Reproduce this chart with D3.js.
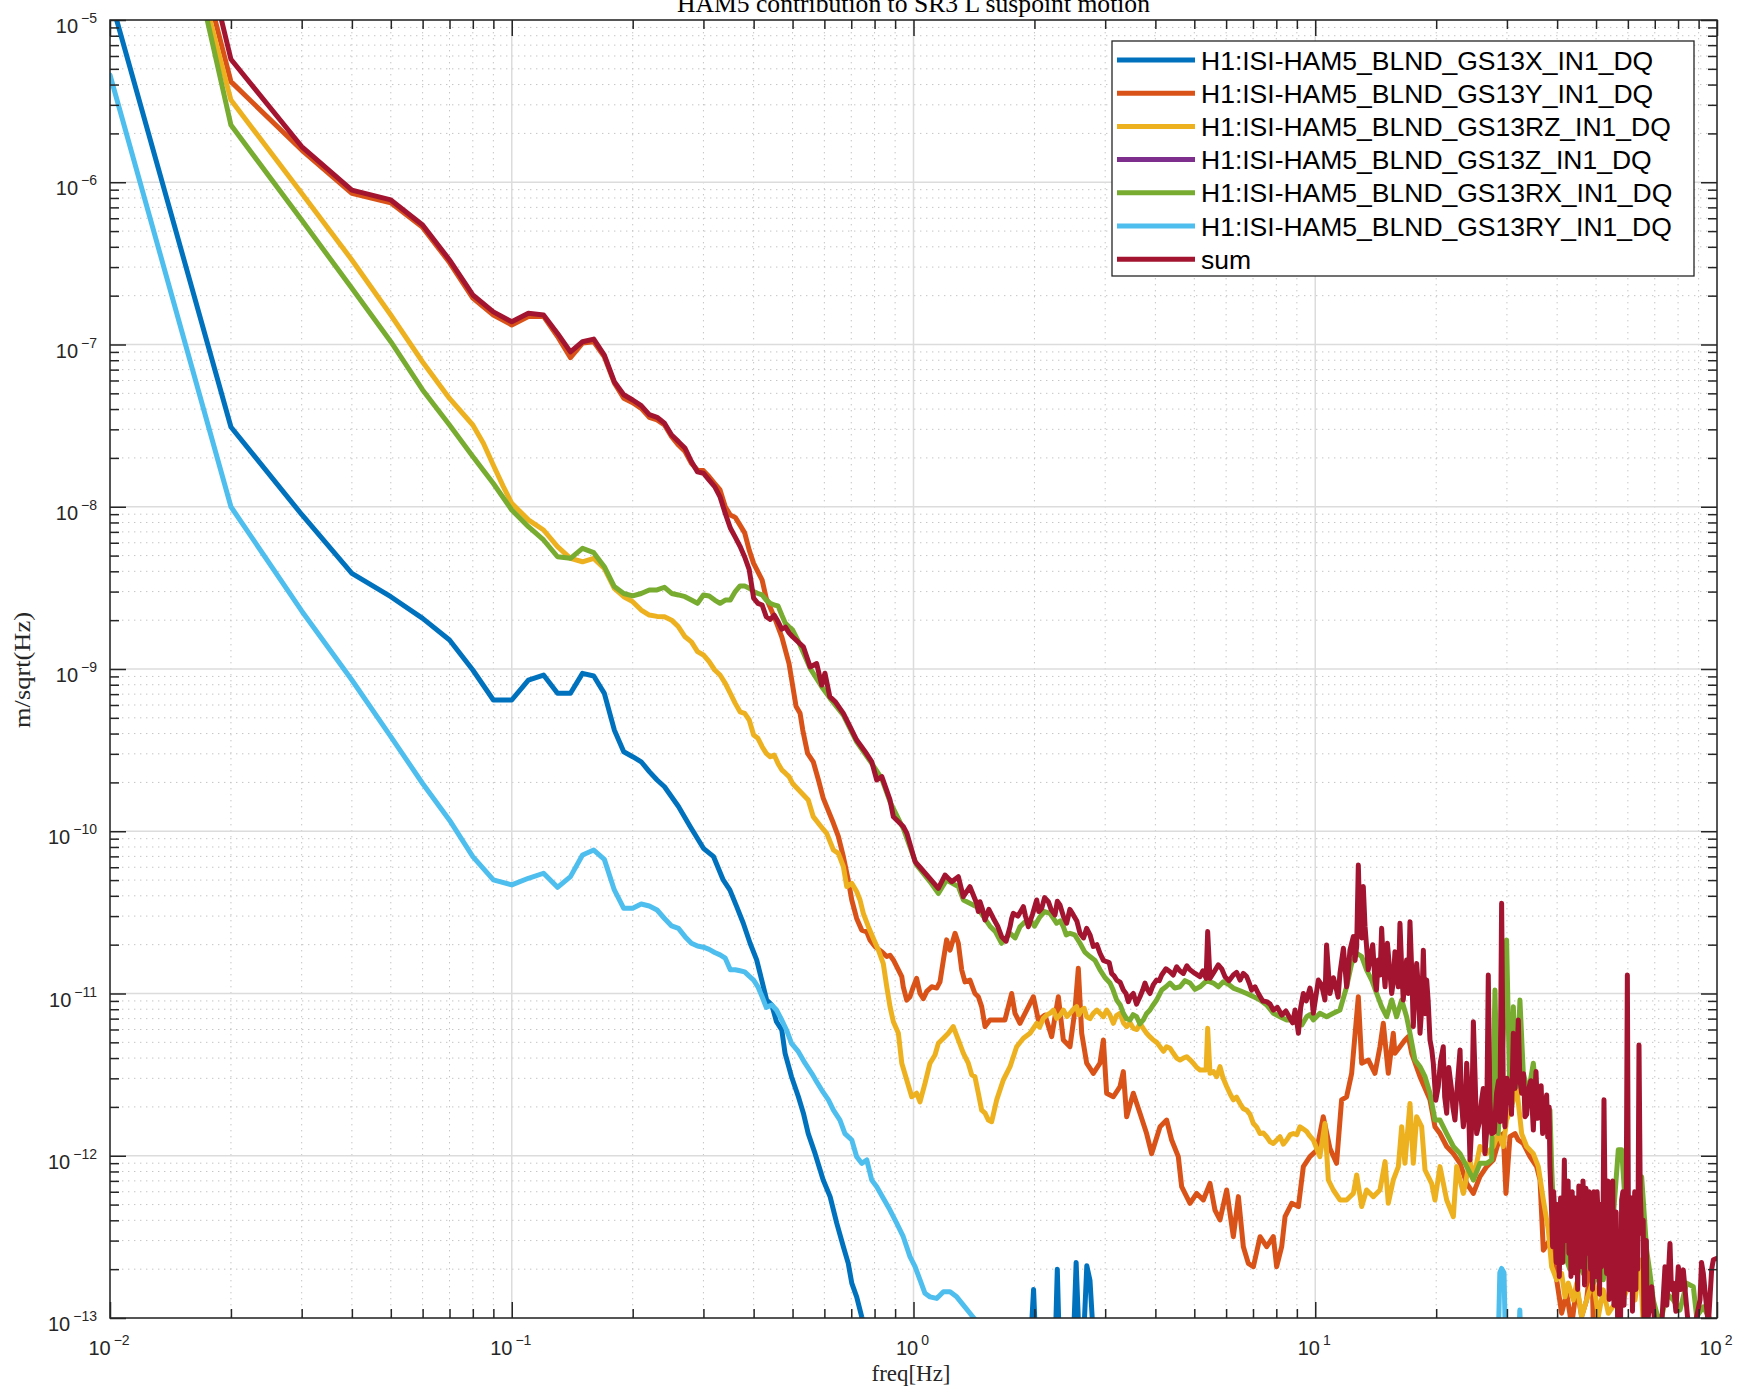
<!DOCTYPE html>
<html>
<head>
<meta charset="utf-8">
<script src="https://cdn.jsdelivr.net/npm/d3@7"></script>
<style>
  body { margin: 0; background: #fff; }
</style>
</head>
<body>
<div id="canvas"></div>
<script>
// ---- data: [frequency Hz, ASD m/sqrt(Hz)] ----
const gs13X = [[0.01,1.4e-5],[0.02,3.1e-8],[0.03,8.96e-9],[0.04,3.89e-9],[0.05,2.79e-9],[0.06,2.05e-9],[0.07,1.51e-9],[0.08,9.86e-10],[0.09,6.44e-10],[0.1,6.44e-10],[0.11,8.55e-10],[0.12,9.18e-10],[0.13,7.08e-10],[0.14,7.08e-10],[0.15,9.4e-10],[0.16,9.05e-10],[0.17,7.08e-10],[0.18,4.21e-10],[0.19,3.09e-10],[0.2,2.88e-10],[0.21,2.68e-10],[0.22,2.33e-10],[0.23,2.07e-10],[0.24,1.88e-10],[0.26,1.42e-10],[0.278,1.07e-10],[0.3,7.85e-11],[0.318,6.97e-11],[0.336,5.01e-11],[0.349,4.35e-11],[0.363,3.43e-11],[0.377,2.71e-11],[0.392,2.04e-11],[0.407,1.61e-11],[0.419,1.21e-11],[0.431,9.12e-12],[0.444,8.49e-12],[0.456,6.7e-12],[0.47,5.96e-12],[0.479,4.28e-12],[0.497,3.07e-12],[0.517,2.31e-12],[0.532,1.83e-12],[0.547,1.37e-12],[0.569,1.03e-12],[0.596,7.09e-13],[0.62,5.6e-13],[0.644,3.84e-13],[0.669,2.75e-13],[0.688,2.17e-13],[0.702,1.64e-13],[0.722,1.35e-13],[0.743,1.02e-13],[0.765,8e-14],[1.5,3e-14],[1.95,6e-14],[1.99,1.5e-13],[2.02,6e-14],[2.25,6e-14],[2.28,2.0e-13],[2.31,6e-14],[2.5,7e-14],[2.54,2.2e-13],[2.58,8e-14],[2.66,9e-14],[2.7,2.1e-13],[2.75,1.7e-13],[2.8,8e-14],[3.0,4e-14],[100,1e-14]];

const gs13Y = [[0.01,3.3e-3],[0.02,4.17e-6],[0.03,1.58e-6],[0.04,8.55e-7],[0.05,7.48e-7],[0.06,5.27e-7],[0.07,3.2e-7],[0.08,1.93e-7],[0.09,1.52e-7],[0.1,1.32e-7],[0.11,1.49e-7],[0.12,1.49e-7],[0.13,1.12e-7],[0.14,8.3e-8],[0.15,1.02e-7],[0.16,1.04e-7],[0.17,8.4e-8],[0.18,5.8e-8],[0.19,4.66e-8],[0.2,4.38e-8],[0.21,4.04e-8],[0.22,3.56e-8],[0.23,3.43e-8],[0.24,3.19e-8],[0.25,2.7e-8],[0.26,2.4e-8],[0.27,2.19e-8],[0.28,1.85e-8],[0.29,1.68e-8],[0.3,1.67e-8],[0.31,1.53e-8],[0.32,1.39e-8],[0.33,1.27e-8],[0.34,1.0e-8],[0.35,8.9e-9],[0.36,8.6e-9],[0.37,7.7e-9],[0.38,6.9e-9],[0.39,5.4e-9],[0.4,4.48e-9],[0.42,3.53e-9],[0.43,2.73e-9],[0.45,2.1e-9],[0.47,1.58e-9],[0.49,1.08e-9],[0.51,5.9e-10],[0.522,5.33e-10],[0.53,4.21e-10],[0.545,3.02e-10],[0.563,2.68e-10],[0.58,2.07e-10],[0.596,1.6e-10],[0.632,1.12e-10],[0.65,9.3e-11],[0.669,6.97e-11],[0.688,5.0e-11],[0.702,3.77e-11],[0.722,2.9e-11],[0.743,2.46e-11],[0.765,2.4e-11],[0.779,2.14e-11],[0.802,1.95e-11],[0.833,1.81e-11],[0.858,1.69e-11],[0.874,1.72e-11],[0.891,1.61e-11],[0.917,1.4e-11],[0.935,1.27e-11],[0.943,1.1e-11],[0.962,9.1e-12],[0.98,9.55e-12],[0.999,1.1e-11],[1.018,1.24e-11],[1.038,1.0e-11],[1.058,9.3e-12],[1.079,1.03e-11],[1.11,1.1e-11],[1.142,1.08e-11],[1.164,1.18e-11],[1.187,1.61e-11],[1.209,2.14e-11],[1.233,1.85e-11],[1.269,2.35e-11],[1.293,2.04e-11],[1.318,1.4e-11],[1.343,1.18e-11],[1.382,1.21e-11],[1.422,1.0e-11],[1.45,9.55e-12],[1.478,8.3e-12],[1.507,6.25e-12],[1.55,6.87e-12],[1.689,6.87e-12],[1.755,1.0e-11],[1.789,7.55e-12],[1.841,6.55e-12],[1.913,7.91e-12],[1.988,9.55e-12],[2.045,6.87e-12],[2.125,7.36e-12],[2.208,5.42e-12],[2.294,9.55e-12],[2.36,5.17e-12],[2.452,4.7e-12],[2.523,7.91e-12],[2.572,1.43e-11],[2.622,5.69e-12],[2.698,3.72e-12],[2.803,3.22e-12],[2.912,3.72e-12],[2.969,5.17e-12],[3.025,2.43e-12],[3.144,2.31e-12],[3.266,2.67e-12],[3.329,3.3e-12],[3.393,1.74e-12],[3.525,2.43e-12],[3.662,1.83e-12],[3.804,1.37e-12],[3.915,1.03e-12],[4.108,1.51e-12],[4.267,1.66e-12],[4.391,1.25e-12],[4.562,9.87e-13],[4.65,6.45e-13],[4.878,5.09e-13],[5.068,5.86e-13],[5.265,5.34e-13],[5.47,6.76e-13],[5.628,4.63e-13],[5.793,4.02e-13],[6.019,6.15e-13],[6.253,3.17e-13],[6.437,5.6e-13],[6.622,2.75e-13],[6.814,2.17e-13],[7.015,2.07e-13],[7.288,3.17e-13],[7.57,2.75e-13],[7.864,3.17e-13],[8.015,2.07e-13],[8.25,2.75e-13],[8.41,4.21e-13],[8.74,5.09e-13],[9.08,4.86e-13],[9.34,8.57e-13],[9.7,9.87e-13],[10.08,1.08e-12],[10.47,1.74e-12],[10.88,1.11e-12],[11.3,8.98e-13],[11.63,2.21e-12],[11.97,2.31e-12],[12.32,3.22e-12],[12.8,9.55e-12],[13.05,3.72e-12],[13.56,3.89e-12],[14.08,3.22e-12],[14.49,4.7e-12],[14.77,6.55e-12],[15.2,3.22e-12],[15.64,5.69e-12],[15.79,4.28e-12],[16.25,4.7e-12],[16.72,5.17e-12],[17.05,5.42e-12],[17.38,4.28e-12],[18.23,3.07e-12],[19.3,2.21e-12],[19.86,1.51e-12],[20.44,1.37e-12],[21.24,1.14e-12],[22.07,1.03e-12],[22.93,8.98e-13],[23.82,6.76e-13],[24.75,5.86e-13],[25.7,7.43e-13],[26.7,8.57e-13],[27.74,9.42e-13],[28.82,1.31e-12],[29.38,1.37e-12],[29.83,5.86e-13],[30.52,1.31e-12],[31.42,1.37e-12],[32.02,1.25e-12],[32.95,1.19e-12],[34.24,9.87e-13],[35.57,8.57e-13],[36.26,7.09e-13],[36.96,2.62e-13],[38.39,3.03e-13],[39.89,1.72e-13],[41.05,1.07e-13],[42.25,1.42e-13],[43.47,9e-14],[44.74,1.56e-13],[46.03,1.02e-13],[47.37,1.29e-13],[48.75,2.62e-13],[49.22,9e-14],[53.12,8e-14],[70,6e-14],[100,6e-14]];

const gs13RZ = [[0.01,2.3e-3],[0.02,3.21e-6],[0.03,8.55e-7],[0.04,3.32e-7],[0.05,1.52e-7],[0.06,7.8e-8],[0.07,4.65e-8],[0.08,3.19e-8],[0.085,2.46e-8],[0.09,1.8e-8],[0.0953,1.33e-8],[0.1,1.05e-8],[0.11,8.3e-9],[0.12,7.19e-9],[0.13,5.68e-9],[0.14,4.81e-9],[0.15,4.58e-9],[0.16,4.81e-9],[0.17,4.17e-9],[0.18,3.14e-9],[0.19,2.79e-9],[0.2,2.6e-9],[0.21,2.31e-9],[0.22,2.15e-9],[0.23,2.11e-9],[0.24,2.1e-9],[0.25,2.0e-9],[0.26,1.82e-9],[0.27,1.58e-9],[0.28,1.47e-9],[0.29,1.28e-9],[0.3,1.22e-9],[0.31,1.11e-9],[0.32,9.86e-10],[0.33,9.18e-10],[0.34,8.16e-10],[0.35,7.08e-10],[0.36,6.14e-10],[0.37,5.45e-10],[0.38,5.33e-10],[0.39,4.85e-10],[0.4,3.92e-10],[0.41,3.74e-10],[0.42,3.32e-10],[0.43,3.02e-10],[0.44,2.88e-10],[0.45,2.95e-10],[0.46,2.62e-10],[0.47,2.39e-10],[0.48,2.28e-10],[0.49,2.17e-10],[0.5,1.97e-10],[0.547,1.56e-10],[0.563,1.23e-10],[0.585,1.09e-10],[0.608,9.7e-11],[0.632,7.66e-11],[0.65,7.31e-11],[0.669,6.05e-11],[0.682,4.56e-11],[0.702,4.77e-11],[0.722,4.25e-11],[0.736,3.77e-11],[0.75,3.12e-11],[0.772,2.58e-11],[0.794,2.19e-11],[0.818,1.85e-11],[0.841,1.53e-11],[0.858,1.1e-11],[0.874,8.3e-12],[0.891,6.7e-12],[0.917,5.69e-12],[0.935,3.72e-12],[0.962,2.93e-12],[0.99,2.31e-12],[1.018,2.43e-12],[1.038,2.15e-12],[1.068,2.79e-12],[1.099,3.72e-12],[1.131,4.18e-12],[1.153,4.93e-12],[1.187,5.3e-12],[1.221,5.69e-12],[1.256,6.25e-12],[1.293,5.17e-12],[1.331,4.28e-12],[1.369,3.72e-12],[1.396,3.15e-12],[1.422,3.07e-12],[1.45,2.43e-12],[1.478,1.91e-12],[1.507,1.83e-12],[1.536,1.66e-12],[1.565,1.62e-12],[1.611,2.21e-12],[1.673,2.93e-12],[1.739,3.54e-12],[1.806,4.7e-12],[1.877,5.3e-12],[1.95,5.69e-12],[2.026,6.55e-12],[2.06,6.2e-12],[2.105,7.03e-12],[2.15,7.4e-12],[2.187,7.55e-12],[2.23,7.9e-12],[2.272,7.03e-12],[2.32,7.4e-12],[2.36,7.91e-12],[2.41,7.2e-12],[2.452,7.55e-12],[2.5,8.0e-12],[2.547,8.3e-12],[2.58,7.4e-12],[2.622,7.91e-12],[2.66,8.1e-12],[2.698,7.19e-12],[2.75,7.0e-12],[2.803,7.55e-12],[2.86,7.9e-12],[2.912,7.55e-12],[2.97,7.2e-12],[3.025,7.91e-12],[3.08,7.4e-12],[3.144,6.55e-12],[3.2,7.3e-12],[3.266,7.55e-12],[3.33,6.6e-12],[3.393,6.25e-12],[3.46,6.6e-12],[3.525,6.1e-12],[3.6,6.0e-12],[3.662,6.55e-12],[3.73,6.1e-12],[3.804,5.69e-12],[3.88,5.4e-12],[3.953,5.17e-12],[4.03,5.0e-12],[4.108,4.7e-12],[4.19,4.4e-12],[4.267,4.7e-12],[4.35,4.6e-12],[4.434,4.28e-12],[4.52,4.0e-12],[4.606,3.89e-12],[4.7,4.0e-12],[4.786,4.08e-12],[4.88,3.9e-12],[4.972,3.72e-12],[5.07,3.5e-12],[5.166,3.38e-12],[5.35,3.38e-12],[5.398,6.1e-12],[5.47,3.22e-12],[5.58,3.3e-12],[5.683,3.07e-12],[5.793,3.54e-12],[5.9,3.0e-12],[6.019,2.67e-12],[6.14,2.4e-12],[6.253,2.21e-12],[6.37,2.3e-12],[6.497,2.1e-12],[6.62,1.95e-12],[6.75,1.91e-12],[6.88,1.8e-12],[7.015,1.58e-12],[7.15,1.5e-12],[7.288,1.37e-12],[7.43,1.38e-12],[7.57,1.31e-12],[7.72,1.22e-12],[7.864,1.19e-12],[8.02,1.25e-12],[8.17,1.31e-12],[8.33,1.18e-12],[8.49,1.25e-12],[8.66,1.35e-12],[8.82,1.37e-12],[9.0,1.35e-12],[9.16,1.51e-12],[9.34,1.46e-12],[9.52,1.41e-12],[9.7,1.32e-12],[9.89,1.25e-12],[10.27,9.87e-13],[10.57,1.58e-12],[10.78,7.09e-13],[11.09,6.15e-13],[11.52,5.34e-13],[11.97,5.34e-13],[12.44,5.86e-13],[12.68,7.61e-13],[13.05,4.86e-13],[13.42,6.15e-13],[13.95,5.6e-13],[14.49,6.15e-13],[14.92,9.2e-13],[15.2,5.09e-13],[15.64,7.09e-13],[16.1,8.57e-13],[16.41,1.51e-12],[16.72,8.98e-13],[17.21,2.1e-12],[17.54,8.98e-13],[17.88,1.74e-12],[18.4,1.51e-12],[18.76,8.17e-13],[19.48,6.76e-13],[19.86,5.34e-13],[20.44,8.57e-13],[21.24,5.34e-13],[22.07,4.21e-13],[22.49,8.57e-13],[23.37,5.86e-13],[24.28,9.42e-13],[24.75,7.09e-13],[25.7,1.14e-12],[26.7,1.03e-12],[27.74,1.14e-12],[28.54,1.37e-12],[29.38,1.14e-12],[29.94,1.66e-12],[30.82,2.01e-12],[31.71,2.67e-12],[32.64,1.37e-12],[33.59,1.14e-12],[34.9,1.03e-12],[35.91,8.57e-13],[36.96,5.34e-13],[38.03,3.49e-13],[38.76,2.07e-13],[39.89,1.72e-13],[41.05,1.88e-13],[41.84,1.35e-13],[42.65,1.64e-13],[43.89,1.29e-13],[44.74,1.64e-13],[46.03,1.02e-13],[47.37,1.29e-13],[49.22,1.72e-13],[50.65,1.02e-13],[52.12,1.49e-13],[53.64,1.07e-13],[55.73,1.23e-13],[56.8,2.07e-13],[58.45,1.29e-13],[60.74,1.72e-13],[62.51,1.29e-13],[64.31,2.28e-13],[65.55,9e-14],[74.93,8e-14],[100,7e-14]];

// Z shows no coupling into L: nothing above zero
const gs13Z = [[0.01,0],[100,0]];

const gs13RX = [[0.01,4.5e-3],[0.02,2.25e-6],[0.03,5.85e-7],[0.04,2.22e-7],[0.05,1.04e-7],[0.06,5.25e-8],[0.07,3.19e-8],[0.08,2.04e-8],[0.09,1.39e-8],[0.1,9.55e-9],[0.11,7.54e-9],[0.12,6.24e-9],[0.13,4.92e-9],[0.14,4.81e-9],[0.15,5.54e-9],[0.16,5.21e-9],[0.17,4.27e-9],[0.18,3.22e-9],[0.19,2.92e-9],[0.2,2.82e-9],[0.21,2.92e-9],[0.22,3.07e-9],[0.23,3.07e-9],[0.24,3.19e-9],[0.25,2.92e-9],[0.26,2.86e-9],[0.27,2.79e-9],[0.28,2.66e-9],[0.29,2.54e-9],[0.3,2.86e-9],[0.31,2.82e-9],[0.32,2.66e-9],[0.33,2.54e-9],[0.34,2.66e-9],[0.35,2.66e-9],[0.36,3.0e-9],[0.37,3.25e-9],[0.38,3.25e-9],[0.39,3.15e-9],[0.4,3.0e-9],[0.41,2.92e-9],[0.42,2.86e-9],[0.43,2.66e-9],[0.44,2.54e-9],[0.45,2.48e-9],[0.46,2.45e-9],[0.47,2.15e-9],[0.48,1.91e-9],[0.49,1.82e-9],[0.5,1.74e-9],[0.517,1.48e-9],[0.553,1.01e-9],[0.591,7.78e-10],[0.62,6.59e-10],[0.669,5.2e-10],[0.722,3.56e-10],[0.787,2.62e-10],[0.833,2.12e-10],[0.874,1.52e-10],[0.943,1.04e-10],[1.018,6.19e-11],[1.099,4.89e-11],[1.153,4.14e-11],[1.209,5.01e-11],[1.293,4.56e-11],[1.331,3.77e-11],[1.436,3.43e-11],[1.55,2.6e-11],[1.6,2.4e-11],[1.657,2.04e-11],[1.7,2.2e-11],[1.739,2.35e-11],[1.79,2.2e-11],[1.841,2.58e-11],[1.89,2.75e-11],[1.95,2.84e-11],[2.0,2.6e-11],[2.064,2.97e-11],[2.12,3.2e-11],[2.187,3.12e-11],[2.23,2.9e-11],[2.272,2.71e-11],[2.32,2.8e-11],[2.36,2.58e-11],[2.4,2.3e-11],[2.452,2.35e-11],[2.52,2.3e-11],[2.597,2.04e-11],[2.67,1.8e-11],[2.75,1.69e-11],[2.83,1.6e-11],[2.912,1.4e-11],[3.0,1.25e-11],[3.084,1.16e-11],[3.14,1.05e-11],[3.204,9.12e-12],[3.27,8.5e-12],[3.329,7.55e-12],[3.39,7.0e-12],[3.459,6.87e-12],[3.52,7.4e-12],[3.593,7.19e-12],[3.66,6.5e-12],[3.733,6.87e-12],[3.8,7.5e-12],[3.878,7.91e-12],[3.95,8.5e-12],[4.029,9.12e-12],[4.09,9.8e-12],[4.147,1.05e-11],[4.25,1.1e-11],[4.349,1.16e-11],[4.47,1.08e-11],[4.606,1.1e-11],[4.74,1.2e-11],[4.878,1.16e-11],[5.02,1.06e-11],[5.166,1.1e-11],[5.37,1.2e-11],[5.576,1.16e-11],[5.74,1.1e-11],[5.904,1.18e-11],[6.08,1.14e-11],[6.253,1.08e-11],[6.5,1.04e-11],[6.75,1.0e-11],[7.0,9.6e-12],[7.288,9.12e-12],[7.57,8.5e-12],[7.864,7.55e-12],[8.17,7.2e-12],[8.49,6.87e-12],[8.74,6.9e-12],[8.99,6.55e-12],[9.26,6.4e-12],[9.52,7.19e-12],[9.7,7.4e-12],[9.89,6.87e-12],[10.27,7.55e-12],[10.67,7.19e-12],[11.09,7.55e-12],[11.52,7.91e-12],[11.97,1.1e-11],[12.32,1.53e-11],[12.68,1.77e-11],[13.05,1.69e-11],[13.42,1.4e-11],[13.82,1.21e-11],[14.22,1.0e-11],[14.63,8.3e-12],[15.06,7.19e-12],[15.5,9.12e-12],[15.94,7.19e-12],[16.41,9.12e-12],[16.88,7.19e-12],[17.21,5.69e-12],[17.71,3.89e-12],[18.23,3.54e-12],[18.76,3.07e-12],[19.3,2.43e-12],[19.86,1.66e-12],[20.44,1.66e-12],[21.24,1.37e-12],[22.07,1.14e-12],[22.93,1.03e-12],[23.82,8.57e-13],[24.75,7.09e-13],[25.7,8.98e-13],[26.7,8.98e-13],[27.48,9.42e-13],[28.01,1.05e-11],[28.54,1.37e-12],[29.38,5.69e-12],[29.94,2.14e-11],[30.52,2.21e-12],[31.12,8.3e-12],[31.71,2.67e-12],[32.32,9.12e-12],[32.95,3.22e-12],[33.91,2.43e-12],[34.9,3.72e-12],[35.57,2.21e-12],[36.6,2.01e-12],[37.67,1.83e-12],[38.39,1.91e-12],[38.76,8.57e-13],[39.51,2.75e-13],[40.66,2.51e-13],[41.5,3.5e-13],[42.25,2.28e-13],[43.0,2.0e-13],[43.89,5.34e-13],[44.5,3.2e-13],[45.16,2.28e-13],[46.48,1.88e-13],[47.1,2.6e-13],[47.83,2.07e-13],[48.5,2.8e-13],[49.22,1.64e-13],[50.65,1.88e-13],[51.4,2.4e-13],[52.12,1.72e-13],[53.64,2.88e-13],[54.4,2.0e-13],[55.2,4.21e-13],[56.8,1.09e-12],[57.9,1.09e-12],[59.02,5.34e-13],[60.74,3.33e-13],[63.1,2.62e-13],[64.93,7.43e-13],[66.82,2.62e-13],[68.11,1.88e-13],[69.42,1.29e-13],[72.13,9e-14],[74.93,1.42e-13],[77.85,1.29e-13],[80.88,1.12e-13],[84.03,1.64e-13],[87.31,1.56e-13],[88.99,1.02e-13],[92.47,1.17e-13],[97.91,9e-14],[100,9e-14]];

const gs13RY = [[0.01,4.58e-6],[0.02,1.0e-8],[0.03,2.28e-9],[0.04,8.55e-10],[0.05,3.83e-10],[0.06,1.97e-10],[0.07,1.17e-10],[0.08,6.97e-11],[0.09,5.01e-11],[0.1,4.67e-11],[0.11,5.13e-11],[0.12,5.51e-11],[0.13,4.51e-11],[0.14,5.25e-11],[0.15,7.14e-11],[0.16,7.66e-11],[0.17,6.71e-11],[0.18,4.35e-11],[0.19,3.35e-11],[0.2,3.35e-11],[0.21,3.56e-11],[0.22,3.46e-11],[0.23,3.27e-11],[0.24,2.9e-11],[0.25,2.61e-11],[0.26,2.52e-11],[0.27,2.24e-11],[0.28,2.04e-11],[0.29,1.96e-11],[0.3,1.93e-11],[0.31,1.87e-11],[0.32,1.79e-11],[0.33,1.73e-11],[0.34,1.65e-11],[0.35,1.4e-11],[0.36,1.4e-11],[0.37,1.38e-11],[0.38,1.36e-11],[0.39,1.28e-11],[0.4,1.21e-11],[0.41,1.1e-11],[0.42,9.55e-12],[0.43,8.22e-12],[0.444,8.49e-12],[0.456,7.91e-12],[0.47,6.87e-12],[0.483,5.96e-12],[0.497,4.93e-12],[0.517,4.38e-12],[0.537,3.72e-12],[0.558,3.22e-12],[0.574,2.86e-12],[0.591,2.54e-12],[0.614,2.21e-12],[0.632,1.91e-12],[0.656,1.66e-12],[0.675,1.37e-12],[0.702,1.25e-12],[0.722,9.87e-13],[0.743,8.98e-13],[0.765,9.42e-13],[0.787,7.09e-13],[0.81,6.45e-13],[0.841,5.47e-13],[0.874,4.63e-13],[0.908,3.84e-13],[0.943,3.17e-13],[0.98,2.39e-13],[1.009,2.07e-13],[1.038,1.72e-13],[1.068,1.42e-13],[1.099,1.35e-13],[1.142,1.32e-13],[1.187,1.45e-13],[1.233,1.45e-13],[1.281,1.35e-13],[1.331,1.2e-13],[1.382,1.07e-13],[1.436,9.5e-14],[1.55,7e-14],[10,3e-14],[28.5,6e-14],[28.8,1.9e-13],[29.1,2.02e-13],[29.5,1.9e-13],[29.8,6e-14],[32.0,6e-14],[32.3,1.12e-13],[32.6,6e-14],[40,3e-14],[100,3e-14]];

const sumL = [[0.01,7e-3],[0.02,5.73e-6],[0.03,1.66e-6],[0.04,8.95e-7],[0.05,7.78e-7],[0.06,5.45e-7],[0.07,3.32e-7],[0.08,2.02e-7],[0.09,1.59e-7],[0.1,1.38e-7],[0.11,1.56e-7],[0.12,1.52e-7],[0.13,1.17e-7],[0.14,9.0e-8],[0.15,1.04e-7],[0.16,1.08e-7],[0.17,8.6e-8],[0.18,5.9e-8],[0.19,4.9e-8],[0.2,4.55e-8],[0.21,4.2e-8],[0.22,3.7e-8],[0.23,3.56e-8],[0.24,3.27e-8],[0.25,2.77e-8],[0.26,2.52e-8],[0.27,2.29e-8],[0.28,1.9e-8],[0.29,1.64e-8],[0.3,1.61e-8],[0.31,1.46e-8],[0.32,1.33e-8],[0.33,1.15e-8],[0.34,9.1e-9],[0.35,7.4e-9],[0.36,6.5e-9],[0.37,5.7e-9],[0.38,4.9e-9],[0.39,4.1e-9],[0.4,2.73e-9],[0.41,2.54e-9],[0.42,2.48e-9],[0.43,2.1e-9],[0.44,2.02e-9],[0.45,2.15e-9],[0.46,1.96e-9],[0.47,1.76e-9],[0.48,1.81e-9],[0.49,1.67e-9],[0.5,1.58e-9],[0.532,1.37e-9],[0.553,1.03e-9],[0.574,1.08e-9],[0.591,7.96e-10],[0.602,9.42e-10],[0.619,6.75e-10],[0.638,6.3e-10],[0.669,5.33e-10],[0.695,4.41e-10],[0.722,3.65e-10],[0.758,3.09e-10],[0.787,2.69e-10],[0.81,2.07e-10],[0.834,2.17e-10],[0.874,1.56e-10],[0.891,1.23e-10],[0.943,1.07e-10],[0.963,9.7e-11],[1.009,6.5e-11],[1.038,6.0e-11],[1.099,5.1e-11],[1.153,4.45e-11],[1.198,5.37e-11],[1.245,4.89e-11],[1.293,5.25e-11],[1.33,3.95e-11],[1.382,4.55e-11],[1.436,3.6e-11],[1.45,3.2e-11],[1.464,3.68e-11],[1.485,3.3e-11],[1.506,2.84e-11],[1.54,3.3e-11],[1.58,2.91e-11],[1.62,2.6e-11],[1.657,2.24e-11],[1.70,2.1e-11],[1.739,2.58e-11],[1.755,2.9e-11],[1.772,3.12e-11],[1.82,3.0e-11],[1.877,3.43e-11],[1.90,3.0e-11],[1.931,2.58e-11],[1.98,3.1e-11],[2.026,3.77e-11],[2.05,3.2e-11],[2.085,3.35e-11],[2.12,3.9e-11],[2.166,3.68e-11],[2.20,3.3e-11],[2.25,3.05e-11],[2.28,3.7e-11],[2.315,3.51e-11],[2.36,3.0e-11],[2.406,2.71e-11],[2.45,3.3e-11],[2.499,3.05e-11],[2.55,2.8e-11],[2.597,2.35e-11],[2.65,2.2e-11],[2.698,2.52e-11],[2.75,2.3e-11],[2.803,1.95e-11],[2.86,2.0e-11],[2.912,1.77e-11],[2.97,1.6e-11],[3.025,1.57e-11],[3.07,1.55e-11],[3.113,1.33e-11],[3.16,1.28e-11],[3.204,1.21e-11],[3.27,1.17e-11],[3.329,1.05e-11],[3.38,1.0e-11],[3.425,8.91e-12],[3.47,9.6e-12],[3.525,1.0e-11],[3.59,8.6e-12],[3.662,9.55e-12],[3.72,1.05e-11],[3.769,1.16e-11],[3.82,1.06e-11],[3.878,1.0e-11],[3.95,1.13e-11],[4.029,1.21e-11],[4.09,1.2e-11],[4.147,1.3e-11],[4.25,1.42e-11],[4.349,1.36e-11],[4.43,1.3e-11],[4.519,1.46e-11],[4.6,1.38e-11],[4.695,1.33e-11],[4.79,1.48e-11],[4.878,1.4e-11],[5.02,1.33e-11],[5.166,1.27e-11],[5.25,1.38e-11],[5.35,1.24e-11],[5.398,2.41e-11],[5.47,1.24e-11],[5.6,1.36e-11],[5.738,1.5e-11],[5.85,1.42e-11],[5.961,1.27e-11],[6.1,1.2e-11],[6.253,1.3e-11],[6.37,1.35e-11],[6.497,1.21e-11],[6.62,1.33e-11],[6.75,1.27e-11],[6.85,1.16e-11],[6.946,1.05e-11],[7.08,1.1e-11],[7.216,1.0e-11],[7.4,9.0e-12],[7.57,8.91e-12],[7.72,8.6e-12],[7.864,7.91e-12],[8.05,8.2e-12],[8.25,7.36e-12],[8.45,7.8e-12],[8.65,7.03e-12],[8.78,6.6e-12],[8.91,7.91e-12],[9.08,5.69e-12],[9.2,8.2e-12],[9.34,1.0e-11],[9.5,9.0e-12],[9.7,1.08e-11],[9.8,9.6e-12],[9.89,7.55e-12],[10.18,1.21e-11],[10.37,1.13e-11],[10.57,9.12e-12],[10.67,1.99e-11],[10.88,1.0e-11],[11.1,1.25e-11],[11.3,1.05e-11],[11.4,9.5e-12],[11.52,1.33e-11],[11.75,1.9e-11],[11.86,1.45e-11],[11.97,1.1e-11],[12.08,1.35e-11],[12.2,1.85e-11],[12.44,2.24e-11],[12.56,1.6e-11],[12.68,1.95e-11],[12.8,6.19e-11],[12.92,2.58e-11],[13.05,2.2e-11],[13.17,4.56e-11],[13.3,2.6e-11],[13.42,1.95e-11],[13.55,1.4e-11],[13.68,1.61e-11],[13.9,2.0e-11],[14.08,1.21e-11],[14.2,1.05e-11],[14.35,1.61e-11],[14.5,1.3e-11],[14.63,2.52e-11],[14.78,1.5e-11],[14.92,1.1e-11],[15.12,2.04e-11],[15.3,1.45e-11],[15.5,1.0e-11],[15.65,1.2e-11],[15.79,1.81e-11],[15.95,1.3e-11],[16.1,1.1e-11],[16.25,2.71e-11],[16.4,1.5e-11],[16.56,9.12e-12],[16.7,1.2e-11],[16.88,1.61e-11],[17.05,1.0e-11],[17.21,2.77e-11],[17.38,1.4e-11],[17.54,6.25e-12],[17.7,1.0e-11],[17.88,1.53e-11],[18.05,1.1e-11],[18.23,5.69e-12],[18.4,8e-12],[18.58,1.85e-11],[18.76,7.5e-12],[18.94,1.21e-11],[19.1,9e-12],[19.3,5.17e-12],[19.5,4.5e-12],[19.67,3.72e-12],[19.95,2.2e-12],[20.24,2.67e-12],[20.5,3.8e-12],[20.83,4.7e-12],[21.0,2.3e-12],[21.24,1.83e-12],[21.5,3.5e-12],[21.85,2.54e-12],[22.0,2.0e-12],[22.27,1.66e-12],[22.6,2.8e-12],[22.93,4.49e-12],[23.1,2.2e-12],[23.37,1.51e-12],[23.6,1.9e-12],[23.82,3.72e-12],[24.0,2.6e-12],[24.28,9.42e-13],[24.5,1.5e-12],[24.75,6.7e-12],[25.0,3.0e-12],[25.22,1.37e-12],[25.6,1.6e-12],[25.95,2.21e-12],[26.2,2.6e-12],[26.45,1.03e-12],[26.7,1.4e-12],[26.96,1.3e-11],[27.2,2.2e-12],[27.48,1.37e-12],[27.9,1.4e-12],[28.27,2.43e-12],[28.6,2.9e-12],[28.82,1.62e-12],[29.1,3.6e-11],[29.4,2.0e-12],[29.66,1.51e-12],[30.0,3.0e-12],[30.52,2.54e-12],[30.8,1.8e-12],[31.12,5.69e-12],[31.4,2.6e-12],[31.71,3.22e-12],[32.02,6.87e-12],[32.3,3.0e-12],[32.64,2.43e-12],[33.0,3.2e-12],[33.27,1.74e-12],[33.6,1.8e-12],[33.91,2.54e-12],[34.4,2.9e-12],[34.9,1.44e-12],[35.1,2.1e-12],[35.44,3.3e-12],[35.8,1.7e-12],[36.26,2.21e-12],[36.5,2.7e-12],[36.81,1.37e-12],[37.2,1.9e-12],[37.67,2.37e-12],[37.9,1.3e-12],[38.2,2.0e-12],[38.39,8.57e-13],[38.7,5e-13],[38.98,2.75e-13],[39.2,6e-13],[39.51,4.21e-13],[39.8,2.2e-13],[40.0,5e-13],[40.27,3.03e-13],[40.5,1.8e-13],[40.8,5.5e-13],[41.05,3.17e-13],[41.3,2.2e-13],[41.69,9.42e-13],[41.9,3.0e-13],[42.25,3.33e-13],[42.6,7e-13],[42.8,2.5e-13],[43.06,5.34e-13],[43.3,1.8e-13],[43.6,6e-13],[43.89,2.88e-13],[44.2,1.9e-13],[44.5,5.5e-13],[44.74,3.17e-13],[45.0,1.5e-13],[45.3,6.5e-13],[45.6,4.63e-13],[45.85,3.5e-13],[46.03,2.07e-13],[46.4,7e-13],[46.8,1.6e-13],[47.19,6.3e-13],[47.5,2.5e-13],[47.83,3.33e-13],[48.1,6e-13],[48.45,2.0e-13],[48.75,5.34e-13],[49.0,1.5e-13],[49.4,6e-13],[49.69,2.88e-13],[50.0,1.8e-13],[50.3,6e-13],[50.65,4.02e-13],[51.0,1.4e-13],[51.3,5e-13],[51.62,2.07e-13],[52.0,3e-13],[52.32,2.21e-12],[52.7,4e-13],[53.12,1.88e-13],[53.5,7e-13],[53.9,1.3e-13],[54.3,3.5e-13],[54.67,5.6e-13],[55.0,7e-13],[55.4,1.2e-13],[55.73,2.07e-13],[56.1,4.5e-13],[56.6,9e-14],[57.13,1.07e-13],[57.5,8e-14],[57.9,5.34e-13],[58.3,6e-13],[58.7,1.2e-13],[59.02,3.33e-13],[59.4,4e-13],[59.82,1.3e-11],[60.3,1.5e-13],[60.74,4.21e-13],[61.2,5.5e-13],[61.6,1.1e-13],[61.92,2.07e-13],[62.4,6e-13],[62.8,1.5e-13],[63.1,5.34e-13],[63.5,2e-13],[63.95,4.82e-12],[64.4,6e-13],[64.93,3.33e-13],[65.5,4e-13],[65.8,9e-14],[66.18,1.42e-13],[66.7,3e-13],[67.0,8e-14],[67.45,1.02e-13],[68.76,1.56e-13],[70.09,9e-14],[72.82,9e-14],[74.22,2.07e-13],[75.0,1.2e-13],[76.38,2.88e-13],[77.0,1.5e-13],[77.85,1.64e-13],[79.0,1.1e-13],[80.11,2.07e-13],[81.3,1.5e-13],[82.44,1.98e-13],[84.83,9e-14],[88.14,9e-14],[90.71,1.29e-13],[91.5,2.2e-13],[92.47,1.88e-13],[95.15,9e-14],[97.0,2.0e-13],[97.91,2.28e-13],[100,2.33e-13]];

const seriesNames = ["H1:ISI-HAM5_BLND_GS13X_IN1_DQ", "H1:ISI-HAM5_BLND_GS13Y_IN1_DQ",
  "H1:ISI-HAM5_BLND_GS13RZ_IN1_DQ", "H1:ISI-HAM5_BLND_GS13Z_IN1_DQ",
  "H1:ISI-HAM5_BLND_GS13RX_IN1_DQ", "H1:ISI-HAM5_BLND_GS13RY_IN1_DQ", "sum"];
const seriesColors = ["#0072BD", "#D95319", "#EDB120", "#7E2F8E", "#77AC30", "#4DBEEE", "#A2142F"];
const seriesData = [gs13X, gs13Y, gs13RZ, gs13Z, gs13RX, gs13RY, sumL];

const xTickExps = [-2, -1, 0, 1, 2];
const yTickExps = [-13, -12, -11, -10, -9, -8, -7, -6, -5];

const titleText = "HAM5 contribution to SR3 L suspoint motion";
const xLabelText = "freq[Hz]";
const yLabelText = "m/sqrt(Hz)";

// ---- layout ----
let width = 1738;
let height = 1390;
let plot = { left: 110, right: 1717, top: 20, bottom: 1318 };
const axisColor = "#262626";

let x = d3.scaleLog().domain([1e-2, 1e2]).range([plot.left, plot.right]);
let y = d3.scaleLog().domain([1e-13, 1e-5]).range([plot.bottom, plot.top]);

let svg = d3.select("#canvas")
  .append("svg")
  .attr("width", width)
  .attr("height", height)
  .style("background", "#fff");

const isDecade = v => Math.abs(Math.log10(v) - Math.round(Math.log10(v))) < 1e-9;
const xMinor = x.ticks().filter(v => !isDecade(v));
const xMajor = x.ticks().filter(isDecade);
const yMinor = y.ticks().filter(v => !isDecade(v));
const yMajor = y.ticks().filter(isDecade);

// grid (under the data)
let grid = svg.append("g");
grid.selectAll(".gxm").data(xMinor).enter().append("line")
  .attr("x1", d => x(d)).attr("x2", d => x(d))
  .attr("y1", plot.top).attr("y2", plot.bottom)
  .attr("stroke", "#c4c4c4").attr("stroke-width", 1).attr("stroke-dasharray", "1.4,4.6");
grid.selectAll(".gym").data(yMinor).enter().append("line")
  .attr("y1", d => y(d)).attr("y2", d => y(d))
  .attr("x1", plot.left).attr("x2", plot.right)
  .attr("stroke", "#c4c4c4").attr("stroke-width", 1).attr("stroke-dasharray", "1.4,4.6");
grid.selectAll(".gxM").data(xMajor).enter().append("line")
  .attr("x1", d => x(d)).attr("x2", d => x(d))
  .attr("y1", plot.top).attr("y2", plot.bottom)
  .attr("stroke", "#dcdcdc").attr("stroke-width", 1.5);
grid.selectAll(".gyM").data(yMajor).enter().append("line")
  .attr("y1", d => y(d)).attr("y2", d => y(d))
  .attr("x1", plot.left).attr("x2", plot.right)
  .attr("stroke", "#dcdcdc").attr("stroke-width", 1.5);

// data lines, clipped to the axes box
svg.append("clipPath").attr("id", "plotclip")
  .append("rect")
  .attr("x", plot.left).attr("y", plot.top)
  .attr("width", plot.right - plot.left).attr("height", plot.bottom - plot.top);

let line = d3.line()
  .defined(d => d[1] > 0)
  .x(d => x(d[0]))
  .y(d => y(d[1]));

svg.append("g").attr("clip-path", "url(#plotclip)")
  .selectAll("path")
  .data(seriesData)
  .enter()
  .append("path")
  .attr("d", d => line(d))
  .attr("fill", "none")
  .attr("stroke", (d, i) => seriesColors[i])
  .attr("stroke-width", 5)
  .attr("stroke-linejoin", "round")
  .attr("stroke-linecap", "round");

// ticks on all four sides, pointing inward
function ticks(gen, translate, vals, size) {
  let g = svg.append("g")
    .attr("transform", translate)
    .call(gen.tickValues(vals).tickSize(size).tickSizeOuter(0).tickFormat(""));
  g.select(".domain").remove();
  g.selectAll("line").attr("stroke", axisColor).attr("stroke-width", 1.5);
}
ticks(d3.axisBottom(x), `translate(0,${plot.bottom})`, xMinor, -9);
ticks(d3.axisBottom(x), `translate(0,${plot.bottom})`, xMajor, -16);
ticks(d3.axisTop(x), `translate(0,${plot.top})`, xMinor, -9);
ticks(d3.axisTop(x), `translate(0,${plot.top})`, xMajor, -16);
ticks(d3.axisLeft(y), `translate(${plot.left},0)`, yMinor, -9);
ticks(d3.axisLeft(y), `translate(${plot.left},0)`, yMajor, -16);
ticks(d3.axisRight(y), `translate(${plot.right},0)`, yMinor, -9);
ticks(d3.axisRight(y), `translate(${plot.right},0)`, yMajor, -16);

svg.append("rect")
  .attr("x", plot.left).attr("y", plot.top)
  .attr("width", plot.right - plot.left).attr("height", plot.bottom - plot.top)
  .attr("fill", "none").attr("stroke", axisColor).attr("stroke-width", 1.5);

// tick labels 10^n
const sans = "'Liberation Sans', Arial, Helvetica, sans-serif";
function powerLabel(sel) {
  sel.append("tspan").text("10");
  sel.append("tspan").attr("dx", 3).attr("dy", -10).attr("font-size", 14)
    .text(e => String(e).replace("-", "\u2212"));
}
svg.selectAll(".xlab").data(xTickExps).enter().append("text")
  .attr("x", e => x(Math.pow(10, e)) - 1)
  .attr("y", plot.bottom + 37)
  .attr("text-anchor", "middle")
  .attr("font-family", sans).attr("font-size", 20).attr("fill", axisColor)
  .call(powerLabel);
svg.selectAll(".ylab").data(yTickExps).enter().append("text")
  .attr("x", 97)
  .attr("y", e => y(Math.pow(10, e)) + 13)
  .attr("text-anchor", "end")
  .attr("font-family", sans).attr("font-size", 20).attr("fill", axisColor)
  .call(powerLabel);

// title and axis labels (LaTeX-style serif)
const serif = "'Liberation Serif', 'DejaVu Serif', serif";
svg.append("text")
  .attr("x", (plot.left + plot.right) / 2).attr("y", 12)
  .attr("text-anchor", "middle")
  .attr("font-family", serif).attr("font-size", 25).attr("fill", "#000")
  .attr("textLength", 473).attr("lengthAdjust", "spacingAndGlyphs")
  .text(titleText);
svg.append("text")
  .attr("x", 911).attr("y", 1381)
  .attr("text-anchor", "middle")
  .attr("font-family", serif).attr("font-size", 24).attr("fill", axisColor)
  .attr("textLength", 79).attr("lengthAdjust", "spacingAndGlyphs")
  .text(xLabelText);
svg.append("text")
  .attr("transform", "translate(30,670) rotate(-90)")
  .attr("text-anchor", "middle")
  .attr("font-family", serif).attr("font-size", 24).attr("fill", axisColor)
  .attr("textLength", 116).attr("lengthAdjust", "spacingAndGlyphs")
  .text(yLabelText);

// legend
let legend = { x: 1112, y: 41, w: 582, h: 235, row0: 60, step: 33.2 };
let lg = svg.append("g");
lg.append("rect")
  .attr("x", legend.x).attr("y", legend.y)
  .attr("width", legend.w).attr("height", legend.h)
  .attr("fill", "#fff").attr("stroke", axisColor).attr("stroke-width", 1.3);
let rows = lg.selectAll(".row").data(seriesNames).enter().append("g")
  .attr("transform", (d, i) => `translate(0,${legend.row0 + i * legend.step})`);
rows.append("line")
  .attr("x1", legend.x + 5).attr("x2", legend.x + 83)
  .attr("y1", 0).attr("y2", 0)
  .attr("stroke", (d, i) => seriesColors[i]).attr("stroke-width", 5);
rows.append("text")
  .attr("x", legend.x + 89).attr("y", 9.5)
  .attr("font-family", sans).attr("font-size", 26.5).attr("fill", "#000")
  .text(d => d);
</script>
</body>
</html>
